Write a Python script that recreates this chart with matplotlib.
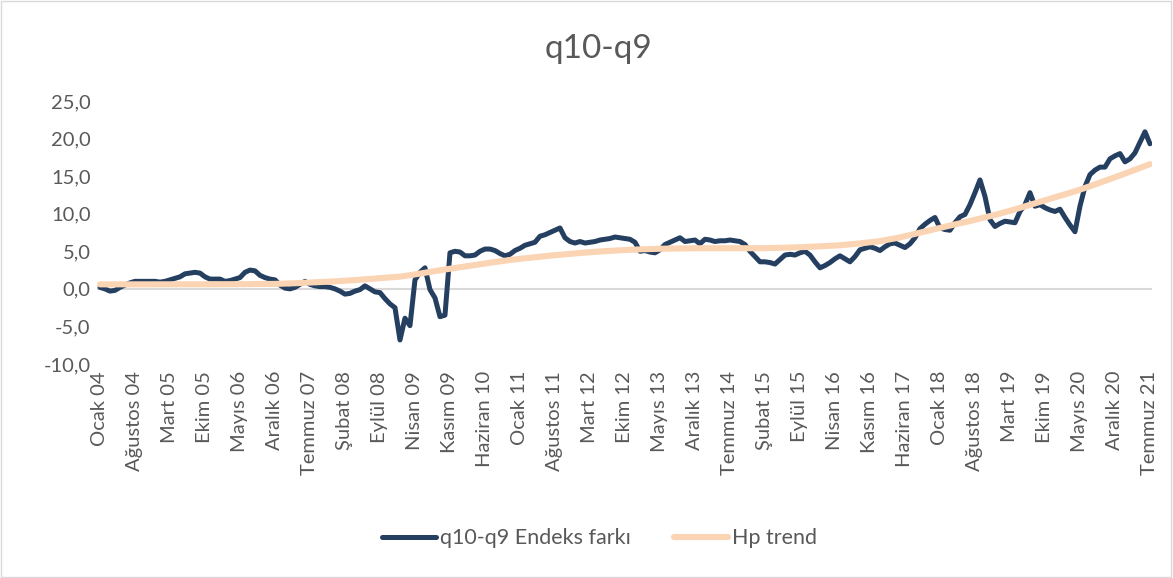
import matplotlib
matplotlib.use('Agg')
import matplotlib.pyplot as plt
from matplotlib.patches import Rectangle

plt.rcParams['font.family'] = ['Lato', 'DejaVu Sans']

# monthly labels, Ocak 04 .. Temmuz 21
months = ['Ocak', 'Şubat', 'Mart', 'Nisan', 'Mayıs', 'Haziran',
          'Temmuz', 'Ağustos', 'Eylül', 'Ekim', 'Kasım', 'Aralık']
years = list(range(2004, 2022))
dates = [f'{m} {y % 100:02d}' for y in years for m in months][:211]

# q10-q9 Endeks farkı
endeks_farki = [
    0.2, 0.0, -0.3, -0.2, 0.2, 0.5, 0.8, 1.0, 1.0, 1.0, 1.0, 1.0,          # 2004
    0.9, 1.0, 1.2, 1.4, 1.6, 2.0, 2.1, 2.2, 2.1, 1.6, 1.3, 1.3,            # 2005
    1.3, 1.0, 1.1, 1.3, 1.5, 2.2, 2.5, 2.4, 1.8, 1.5, 1.3, 1.2,            # 2006
    0.5, 0.1, 0.0, 0.2, 0.6, 1.0, 0.6, 0.4, 0.3, 0.3, 0.2, 0.0,            # 2007
    -0.3, -0.7, -0.6, -0.3, -0.1, 0.4, 0.0, -0.4, -0.5, -1.3, -2.0, -2.5,  # 2008
    -6.8, -3.9, -4.9, 1.2, 2.2, 2.8, -0.1, -1.2, -3.7, -3.5, 4.8, 5.0,     # 2009
    4.9, 4.4, 4.4, 4.5, 5.0, 5.3, 5.3, 5.1, 4.7, 4.4, 4.6, 5.1,            # 2010
    5.4, 5.8, 6.0, 6.2, 7.0, 7.2, 7.5, 7.8, 8.1, 6.8, 6.3, 6.1,            # 2011
    6.3, 6.1, 6.2, 6.3, 6.5, 6.6, 6.7, 6.9, 6.8, 6.7, 6.6, 6.2,            # 2012
    5.0, 5.1, 4.9, 4.8, 5.2, 5.9, 6.2, 6.5, 6.8, 6.3, 6.4, 6.5,            # 2013
    6.0, 6.6, 6.5, 6.3, 6.4, 6.4, 6.5, 6.4, 6.3, 5.9, 5.0, 4.3,            # 2014
    3.6, 3.6, 3.5, 3.3, 3.9, 4.5, 4.6, 4.5, 4.8, 5.0, 4.5, 3.6,            # 2015
    2.8, 3.1, 3.5, 4.0, 4.4, 4.0, 3.6, 4.3, 5.2, 5.4, 5.6, 5.4,            # 2016
    5.1, 5.6, 6.0, 6.1, 5.8, 5.5, 6.0, 6.8, 8.0, 8.6, 9.1, 9.5,            # 2017
    8.1, 7.9, 7.8, 8.8, 9.6, 9.9, 11.2, 12.8, 14.5, 12.3, 9.2, 8.3,        # 2018
    8.7, 9.0, 8.9, 8.8, 10.3, 11.2, 12.8, 11.0, 11.2, 10.8, 10.5, 10.3,    # 2019
    10.6, 9.5, 8.5, 7.6, 11.0, 13.6, 15.2, 15.8, 16.2, 16.2, 17.3, 17.7,   # 2020
    18.0, 16.9, 17.3, 18.1, 19.5, 20.9, 19.3,                              # 2021
]

# Hp trend
hp_trend = [
    0.60, 0.60, 0.60, 0.60, 0.60, 0.60, 0.60, 0.60, 0.60, 0.60, 0.60, 0.60,
    0.60, 0.60, 0.60, 0.60, 0.60, 0.60, 0.60, 0.60, 0.61, 0.61, 0.61, 0.61,
    0.62, 0.62, 0.62, 0.63, 0.63, 0.63, 0.64, 0.64, 0.65, 0.65, 0.66, 0.66,
    0.68, 0.70, 0.72, 0.75, 0.78, 0.81, 0.84, 0.87, 0.90, 0.93, 0.96, 1.00,
    1.04, 1.08, 1.12, 1.17, 1.22, 1.27, 1.32, 1.37, 1.42, 1.47, 1.52, 1.57,
    1.63, 1.72, 1.82, 1.93, 2.04, 2.15, 2.26, 2.37, 2.48, 2.58, 2.68, 2.78,
    2.88, 2.98, 3.08, 3.18, 3.28, 3.38, 3.48, 3.57, 3.66, 3.75, 3.84, 3.92,
    4.00, 4.07, 4.14, 4.21, 4.28, 4.35, 4.42, 4.48, 4.54, 4.60, 4.66, 4.72,
    4.78, 4.83, 4.88, 4.93, 4.98, 5.02, 5.06, 5.10, 5.14, 5.17, 5.20, 5.23,
    5.26, 5.28, 5.30, 5.32, 5.34, 5.35, 5.36, 5.37, 5.38, 5.39, 5.40, 5.40,
    5.40, 5.40, 5.40, 5.40, 5.40, 5.40, 5.40, 5.40, 5.40, 5.40, 5.40, 5.40,
    5.41, 5.42, 5.43, 5.44, 5.46, 5.48, 5.50, 5.52, 5.54, 5.57, 5.60, 5.63,
    5.66, 5.69, 5.72, 5.76, 5.80, 5.86, 5.92, 5.98, 6.05, 6.12, 6.19, 6.27,
    6.35, 6.47, 6.59, 6.72, 6.85, 7.00, 7.16, 7.32, 7.48, 7.64, 7.80, 7.96,
    8.12, 8.27, 8.42, 8.57, 8.72, 8.87, 9.03, 9.19, 9.35, 9.51, 9.67, 9.84,
    10.02, 10.20, 10.39, 10.58, 10.78, 10.98, 11.18, 11.38, 11.58, 11.78, 11.98, 12.18,
    12.38, 12.58, 12.78, 12.98, 13.20, 13.43, 13.66, 13.89, 14.13, 14.37, 14.61, 14.85,
    15.09, 15.34, 15.59, 15.84, 16.09, 16.35, 16.60,
]

yticks = [-10, -5, 0, 5, 10, 15, 20, 25]

grey = '#595959'
fig = plt.figure(figsize=(11.73, 5.78), dpi=100)
fig.patches.append(Rectangle((0.001, 0.002), 0.997, 0.996, transform=fig.transFigure,
                             fill=False, edgecolor='#d9d9d9', linewidth=1))
ax = fig.add_axes([0.0831, 0.3702, 0.8994, 0.4551])

x = list(range(len(dates)))
ax.axhline(0, color='#d9d9d9', linewidth=1.5, zorder=1)
ax.plot(x, endeks_farki, color='#243f60', linewidth=3.6, label='q10-q9 Endeks farkı',
        solid_joinstyle='round', solid_capstyle='round', zorder=2)
ax.plot(x, hp_trend, color='#fbd4b4', linewidth=4.4, label='Hp trend',
        solid_capstyle='round', zorder=3)

ax.set_xlim(-0.5, len(dates) - 0.5)
ax.set_ylim(-10, 25)
ax.set_yticks(yticks)
ax.set_yticklabels([f'{v:.1f}'.replace('.', ',') for v in yticks], fontsize=14.5, color=grey)
ax.set_xticks(x[::7])
ax.set_xticklabels(dates[::7], rotation=90, fontsize=14.5, color=grey)
ax.tick_params(length=0, pad=5)
for s in ax.spines.values():
    s.set_visible(False)

fig.text(0.51, 0.915, 'q10-q9', ha='center', va='center', fontsize=24, color=grey)
fig.legend(loc='center', bbox_to_anchor=(0.511, 0.069), ncol=2, frameon=False,
           fontsize=15.5, labelcolor=grey, handlelength=2.5, handletextpad=0.2,
           columnspacing=2.0)

fig.savefig('out.png', dpi=100)
